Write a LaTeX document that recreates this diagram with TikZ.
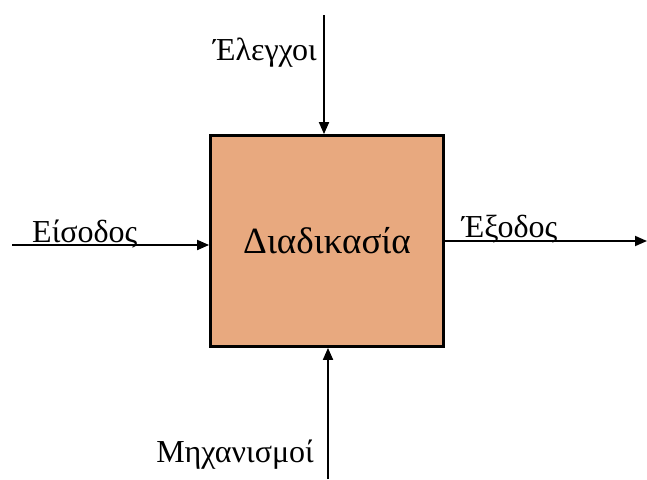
\documentclass[tikz,border=0pt]{standalone}
\usepackage{fontspec}
\setmainfont{Liberation Serif}
\usetikzlibrary{arrows.meta}
\definecolor{boxfill}{RGB}{232,169,127}
\tikzset{
  procbox/.style={draw=black, line width=2.8pt, fill=boxfill, minimum width=233pt, minimum height=211pt, inner sep=0pt, font=\fontsize{37}{44}\selectfont},
  flow/.style={line width=1.8pt, -{Triangle[length=12pt,width=10pt]}},
  lbl/.style={inner sep=0pt, font=\fontsize{32}{38}\selectfont}
}
\begin{document}
\begin{tikzpicture}[x=1pt,y=-1pt]
\useasboundingbox (0,0) rectangle (647,479);
\node[procbox] (p) at (327,241) {Διαδικασία};
\coordinate (tin) at (324,15);
\coordinate (lin) at (12,245);
\coordinate (rout) at (647,241);
\coordinate (bin) at (328,479);
\draw[flow] (tin) -- (tin |- p.north);
\draw[flow] (lin) -- (p.west |- lin);
\draw[flow] (p.east |- rout) -- (rout);
\draw[flow] (bin) -- (bin |- p.south);
\node[lbl, anchor=base east] (tl) at (317,60) {Έλεγχοι};
\node[lbl, anchor=base west] (ll) at (32,242) {Είσοδος};
\node[lbl, anchor=base west] (rl) at (462,237) {Έξοδος};
\node[lbl, anchor=base east] (bl) at (314,462) {Μηχανισμοί};
\end{tikzpicture}
\end{document}
